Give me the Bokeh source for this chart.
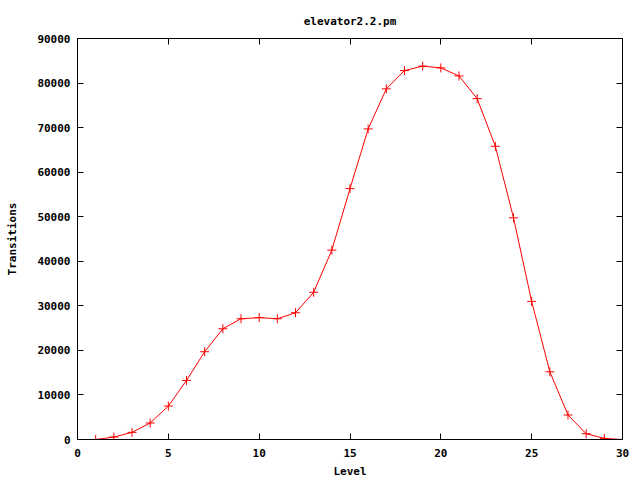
from bokeh.plotting import figure
from bokeh.models import Range1d, LinearAxis, FixedTicker
from bokeh.embed import file_html
from bokeh.resources import INLINE

levels = list(range(0, 31))
transitions = [0, 0, 550, 1600, 3700, 7500, 13250, 19700, 24850, 27100,
               27350, 27100, 28450, 33050, 42500, 56300, 69700, 78700, 82800, 83800,
               83400, 81600, 76500, 65800, 49750, 31000, 15200, 5500, 1300, 250, 0]
x_ticks = [0, 5, 10, 15, 20, 25, 30]
y_ticks = [0, 10000, 20000, 30000, 40000, 50000, 60000, 70000, 80000, 90000]

FONT = "DejaVu Sans Mono"
FS = "11px"

p = figure(width=640, height=480, output_backend="svg", toolbar_location=None,
           x_range=Range1d(0, 30), y_range=Range1d(0, 90000),
           title="elevator2.2.pm", x_axis_label="Level", y_axis_label="Transitions",
           min_border_left=77, min_border_right=18, min_border_top=38, min_border_bottom=40)

p.title.align = "center"
p.title.text_font = FONT
p.title.text_font_size = FS
p.title.text_font_style = "bold"
p.title.text_color = "black"
p.title.standoff = 22

p.grid.visible = False
p.outline_line_color = "black"
p.outline_line_width = 1
p.background_fill_color = "white"
p.border_fill_color = "white"

for ax, ticks in ((p.xaxis[0], x_ticks), (p.yaxis[0], y_ticks)):
    ax.ticker = FixedTicker(ticks=ticks)
    ax.major_tick_in = 6
    ax.major_tick_out = 0
    ax.minor_tick_line_color = None
    ax.axis_line_color = "black"
    ax.major_label_text_font = FONT
    ax.major_label_text_font_size = FS
    ax.major_label_text_font_style = "bold"
    ax.axis_label_text_font = FONT
    ax.axis_label_text_font_size = FS
    ax.axis_label_text_font_style = "bold"
    ax.axis_label_text_color = "black"
    ax.major_label_text_color = "black"

p.xaxis[0].major_label_standoff = 9
p.xaxis[0].axis_label_standoff = 5
p.yaxis[0].major_label_standoff = 7
p.yaxis[0].axis_label_standoff = 15

top = LinearAxis(ticker=FixedTicker(ticks=x_ticks), major_tick_in=6, major_tick_out=0,
                 minor_tick_line_color=None, major_label_overrides={t: "" for t in x_ticks},
                 major_label_standoff=0)
right = LinearAxis(ticker=FixedTicker(ticks=y_ticks), major_tick_in=6, major_tick_out=0,
                   minor_tick_line_color=None, major_label_overrides={t: "" for t in y_ticks},
                   major_label_standoff=0)
p.add_layout(top, "above")
p.add_layout(right, "right")

p.line(levels, transitions, line_color="#ff0000", line_width=1)
p.scatter(levels, transitions, marker="cross", size=9, line_color="#ff0000", line_width=1)

open("out.html", "w").write(file_html(p, INLINE))
